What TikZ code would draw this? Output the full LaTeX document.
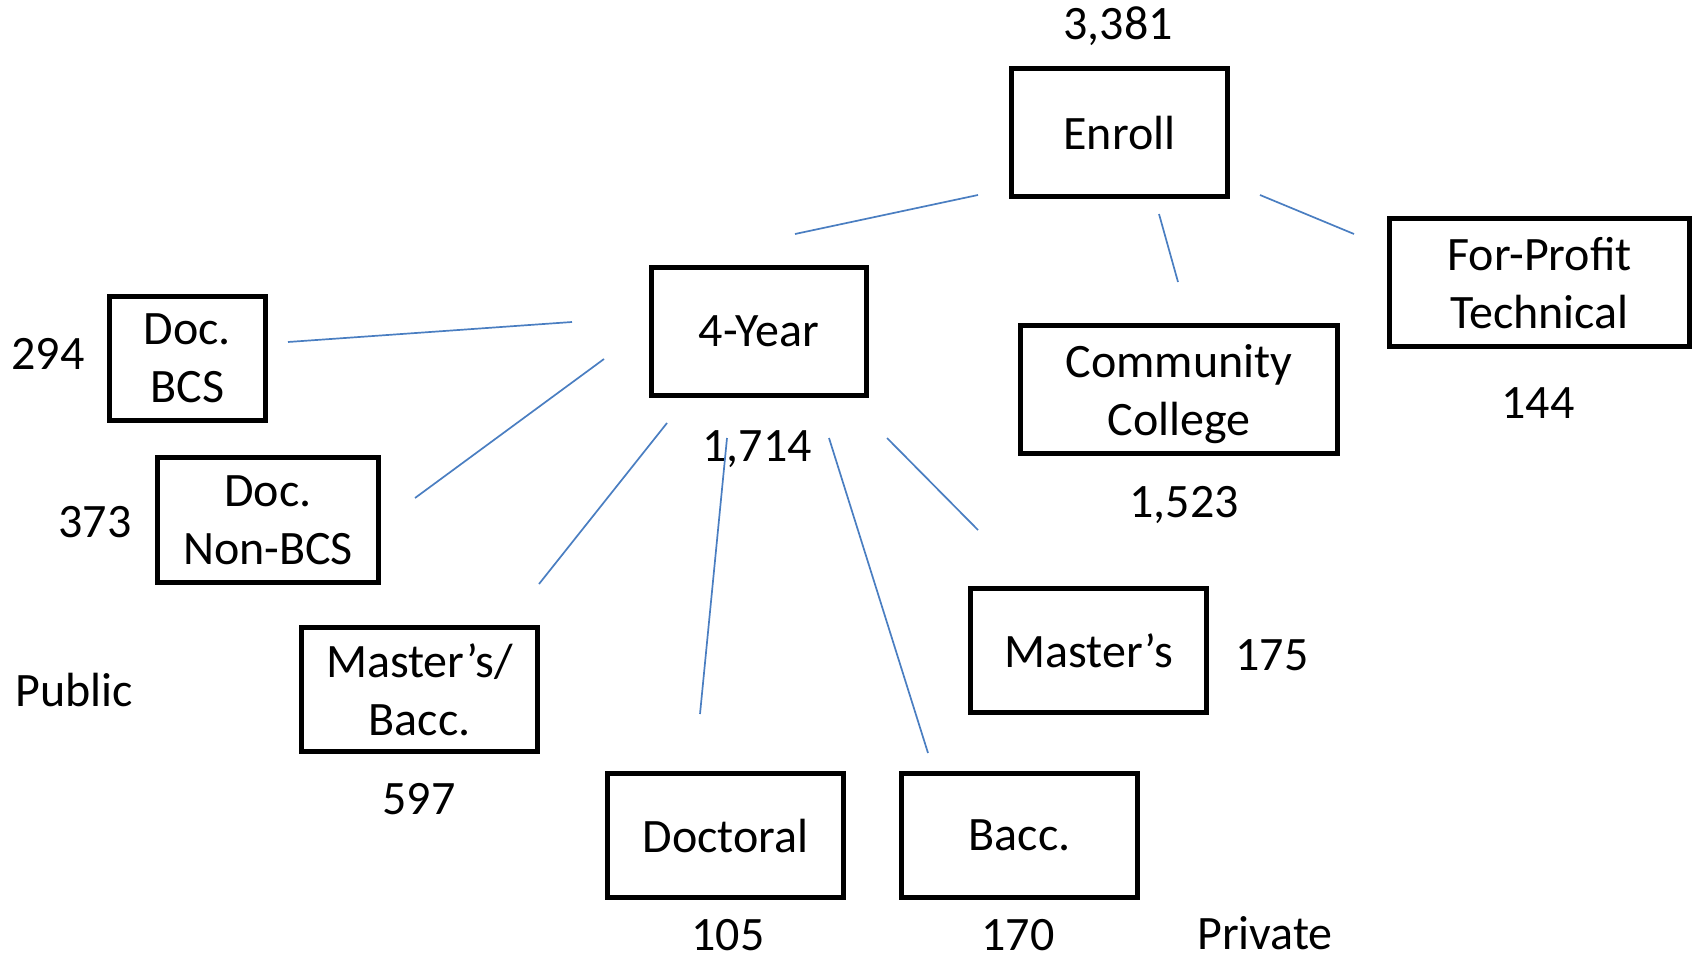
\documentclass[tikz,border=0pt]{standalone}
\usepackage{fontspec}
\setmainfont{Carlito}
\usetikzlibrary{positioning}
\definecolor{linkblue}{RGB}{74,126,193}

\begin{document}
\begin{tikzpicture}[
        x=0.5pt, y=-0.5pt,
        box/.style={rectangle, draw=black, line width=2.5pt, minimum height=62pt, text depth=0pt, align=center, font=\fontsize{24}{29}\selectfont},
        num/.style={font=\fontsize{24}{29}\selectfont},
        link/.style={linkblue, line width=0.85pt}
    ]
        \useasboundingbox (0,0) rectangle (1696,963);

        % boxes
        \node[box, minimum width=108pt, minimum height=64pt] (enroll) at (1119.5,132.5) {Enroll};
        \node[box, minimum width=107.5pt, minimum height=64pt] (fouryear) at (759,331.5) {4-Year};
        \node[box, minimum width=158.5pt, minimum height=64pt] (commcoll) at (1179,389.5) {Community\\College};
        \node[box, minimum width=150pt, minimum height=64pt] (forprofit) at (1539.5,282.5) {For-Profit\\Technical};
        \node[box, minimum width=78pt] (docbcs) at (187.5,358.5) {Doc.\\BCS};
        \node[box, minimum width=110.5pt, minimum height=62.5pt] (docnonbcs) at (268,520) {Doc.\\Non-BCS};
        \node[box, minimum width=118pt] (mastbacc) at (419.5,689.5) {Master’s/\\Bacc.};
        \node[box, minimum width=118pt] (doctoral) at (725.5,835.5) {Doctoral};
        \node[box, minimum width=118pt] (bacc) at (1019.5,835.5) {Bacc.};
        \node[box, minimum width=118pt] (masters) at (1088.5,650.5) {Master’s};

        % counts
        \node[num] (nenroll) at (1118,26) {3,381};
        \node[num] (nfouryear) at (757,449) {1,714};
        \node[num] (ncommcoll) at (1184,505) {1,523};
        \node[num] (nforprofit) at (1538,403) {144};
        \node[num] (ndocbcs) at (48,354) {294};
        \node[num] (ndocnonbcs) at (95,522) {373};
        \node[num] (nmastbacc) at (419,799) {597};
        \node[num] (ndoctoral) at (728,935) {105};
        \node[num] (nbacc) at (1018,935) {170};
        \node[num] (nmasters) at (1272,655) {175};
        \node[num] (public) at (74,690) {Public};
        \node[num] (private) at (1265,933) {Private};

        % line ends
        \coordinate (e4a) at (978,195);   \coordinate (e4b) at (795,234);
        \coordinate (eca) at (1159,214);  \coordinate (ecb) at (1178,282);
        \coordinate (efa) at (1260,195);  \coordinate (efb) at (1354,234);
        \coordinate (ydba) at (572,322);  \coordinate (ydbb) at (288,342);
        \coordinate (ydna) at (604,359);  \coordinate (ydnb) at (415,498);
        \coordinate (ymba) at (667,423);  \coordinate (ymbb) at (539,584);
        \coordinate (ydoa) at (727,438);  \coordinate (ydob) at (700,714);
        \coordinate (yba) at (829,438);   \coordinate (ybb) at (928,753);
        \coordinate (yma) at (887,438);   \coordinate (ymb) at (978,530);

        \draw[link] (e4a) -- (e4b);
        \draw[link] (eca) -- (ecb);
        \draw[link] (efa) -- (efb);
        \draw[link] (ydba) -- (ydbb);
        \draw[link] (ydna) -- (ydnb);
        \draw[link] (ymba) -- (ymbb);
        \draw[link] (ydoa) -- (ydob);
        \draw[link] (yba) -- (ybb);
        \draw[link] (yma) -- (ymb);
    \end{tikzpicture}
\end{document}
